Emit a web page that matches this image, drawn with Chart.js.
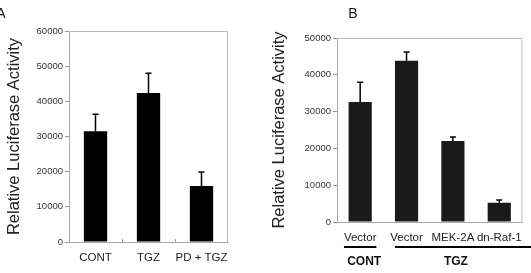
<!DOCTYPE html>
<html>
<head>
<meta charset="utf-8">
<script src="https://cdn.jsdelivr.net/npm/chart.js@4/dist/chart.umd.min.js"></script>
<style>
  body { margin: 0; background: #fff; }
  #wrapA { position: absolute; left: 0; top: 0; width: 265px; height: 273px; }
  #wrapB { position: absolute; left: 265px; top: 0; width: 266px; height: 273px; }
</style>
</head>
<body>
<div id="wrapA"><canvas id="chartA"></canvas></div>
<div id="wrapB"><canvas id="chartB"></canvas></div>
<script>
// panel A
const labelsA = ['CONT', 'TGZ', 'PD + TGZ'];
const valuesA = [31500, 42400, 15900];
const errorsA = [4800, 5600, 4000];
const maxA = 60000;

// panel B
const labelsB = ['Vector', 'Vector', 'MEK-2A', 'dn-Raf-1'];
const valuesB = [32600, 43800, 22000, 5200];
const errorsB = [5400, 2400, 1100, 800];
const maxB = 50000;
const groupNamesB = ['CONT', 'TGZ'];
const groupFromB = [0, 1];
const groupToB = [0, 3];

const yTitle = 'Relative Luciferase Activity';
const stepY = 10000;

Chart.defaults.font.family = '"Liberation Sans", Arial, sans-serif';
Chart.defaults.animation = false;

// upper error bars, drawn from the value scale
const errorBars = {
  id: 'errorBars',
  afterDatasetsDraw(chart, args, opts) {
    const ctx = chart.ctx;
    const y = chart.scales.y;
    const meta = chart.getDatasetMeta(0);
    ctx.save();
    ctx.strokeStyle = '#000';
    ctx.lineWidth = 1.5;
    meta.data.forEach((bar, i) => {
      const v = chart.data.datasets[0].data[i];
      const top = y.getPixelForValue(v + opts.errors[i]);
      ctx.beginPath();
      ctx.moveTo(bar.x, bar.y);
      ctx.lineTo(bar.x, top);
      ctx.moveTo(bar.x - 3, top);
      ctx.lineTo(bar.x + 3, top);
      ctx.stroke();
    });
    ctx.restore();
  }
};

// top/right frame, panel letter, small ticks, groups
const extras = {
  id: 'extras',
  afterDraw(chart, args, opts) {
    const ctx = chart.ctx;
    const a = chart.chartArea;
    const x = chart.scales.x;
    ctx.save();
    ctx.strokeStyle = '#b8b8b8';
    ctx.lineWidth = 1;
    ctx.beginPath();
    ctx.moveTo(a.left, a.top + 0.5);
    ctx.lineTo(a.right - 0.5, a.top + 0.5);
    ctx.lineTo(a.right - 0.5, a.bottom);
    ctx.stroke();

    if (opts.boundaryTicks) {
      ctx.strokeStyle = '#999';
      for (let i = 1; i < chart.data.labels.length; i++) {
        const bx = Math.round((x.getPixelForValue(i - 1) + x.getPixelForValue(i)) / 2) + 0.5;
        ctx.beginPath();
        ctx.moveTo(bx, a.bottom);
        ctx.lineTo(bx, a.bottom - 3);
        ctx.stroke();
      }
    }

    ctx.fillStyle = '#111';
    ctx.font = '14px "Liberation Sans", Arial, sans-serif';
    ctx.textAlign = 'center';
    ctx.textBaseline = 'middle';
    ctx.fillText(opts.letter, opts.letterX, 14);

    if (opts.groups) {
      const half = x.getPixelForValue(1) - x.getPixelForValue(0);
      ctx.strokeStyle = '#000';
      ctx.lineWidth = 2;
      ctx.font = 'bold 12px "Liberation Sans", Arial, sans-serif';
      opts.groups.names.forEach((name, g) => {
        const from = opts.groups.from[g], to = opts.groups.to[g];
        let x0 = x.getPixelForValue(from) - half * 0.35;
        let x1 = x.getPixelForValue(to) + half * 0.35;
        if (to === chart.data.labels.length - 1 && from !== to) {
          x0 = x.getPixelForValue(from) - half * 0.25;
          x1 = chart.width;
        }
        ctx.beginPath();
        ctx.moveTo(x0, a.bottom + 25);
        ctx.lineTo(x1, a.bottom + 25);
        ctx.stroke();
        const cx = (x.getPixelForValue(from) + x.getPixelForValue(to)) / 2 + (from === to ? 4 : 3);
        ctx.fillText(name, cx, a.bottom + 40);
      });
    }
    ctx.restore();
  }
};

function makeChart(id, labels, values, errors, max, barPct, color, area, plugOpts) {
  return new Chart(document.getElementById(id), {
    type: 'bar',
    data: {
      labels: labels,
      datasets: [{
        data: values,
        backgroundColor: color,
        borderWidth: 0,
        categoryPercentage: 1,
        barPercentage: barPct
      }]
    },
    options: {
      responsive: true,
      maintainAspectRatio: false,
      layout: { padding: { left: 0, top: area.top, right: area.right, bottom: 0 } },
      plugins: {
        legend: { display: false },
        tooltip: { enabled: false },
        errorBars: { errors: errors },
        extras: plugOpts
      },
      scales: {
        x: {
          grid: { display: false, drawTicks: false, tickLength: 0 },
          border: { display: true, color: '#aaa', width: 1 },
          ticks: {
            autoSkip: false,
            maxRotation: 0,
            minRotation: 0,
            padding: 9,
            color: '#222',
            font: { size: 11.5 }
          },
          afterFit(scale) { scale.height = area.xHeight; }
        },
        y: {
          min: 0,
          max: max,
          grid: { drawOnChartArea: false, drawTicks: true, tickLength: 4, tickColor: '#999' },
          border: { display: true, color: '#aaa', width: 1 },
          ticks: {
            stepSize: stepY,
            padding: 2,
            color: '#333',
            font: { size: 9.5 },
            callback: v => String(v)
          },
          title: {
            display: true,
            text: yTitle,
            color: '#222',
            font: { size: 16.5 },
            padding: { top: 5, bottom: 0 }
          },
          afterFit(scale) { scale.width = area.yWidth; }
        }
      }
    },
    plugins: [errorBars, extras]
  });
}

makeChart('chartA', labelsA, valuesA, errorsA, maxA, 0.44, '#000',
  { top: 31, right: 37, xHeight: 31, yWidth: 69 },
  { letter: 'A', letterX: 1, boundaryTicks: true });

makeChart('chartB', labelsB, valuesB, errorsB, maxB, 0.5, '#1a1a1a',
  { top: 38, right: 3, xHeight: 51, yWidth: 72 },
  { letter: 'B', letterX: 88, boundaryTicks: false,
    groups: { names: groupNamesB, from: groupFromB, to: groupToB } });
</script>
</body>
</html>
